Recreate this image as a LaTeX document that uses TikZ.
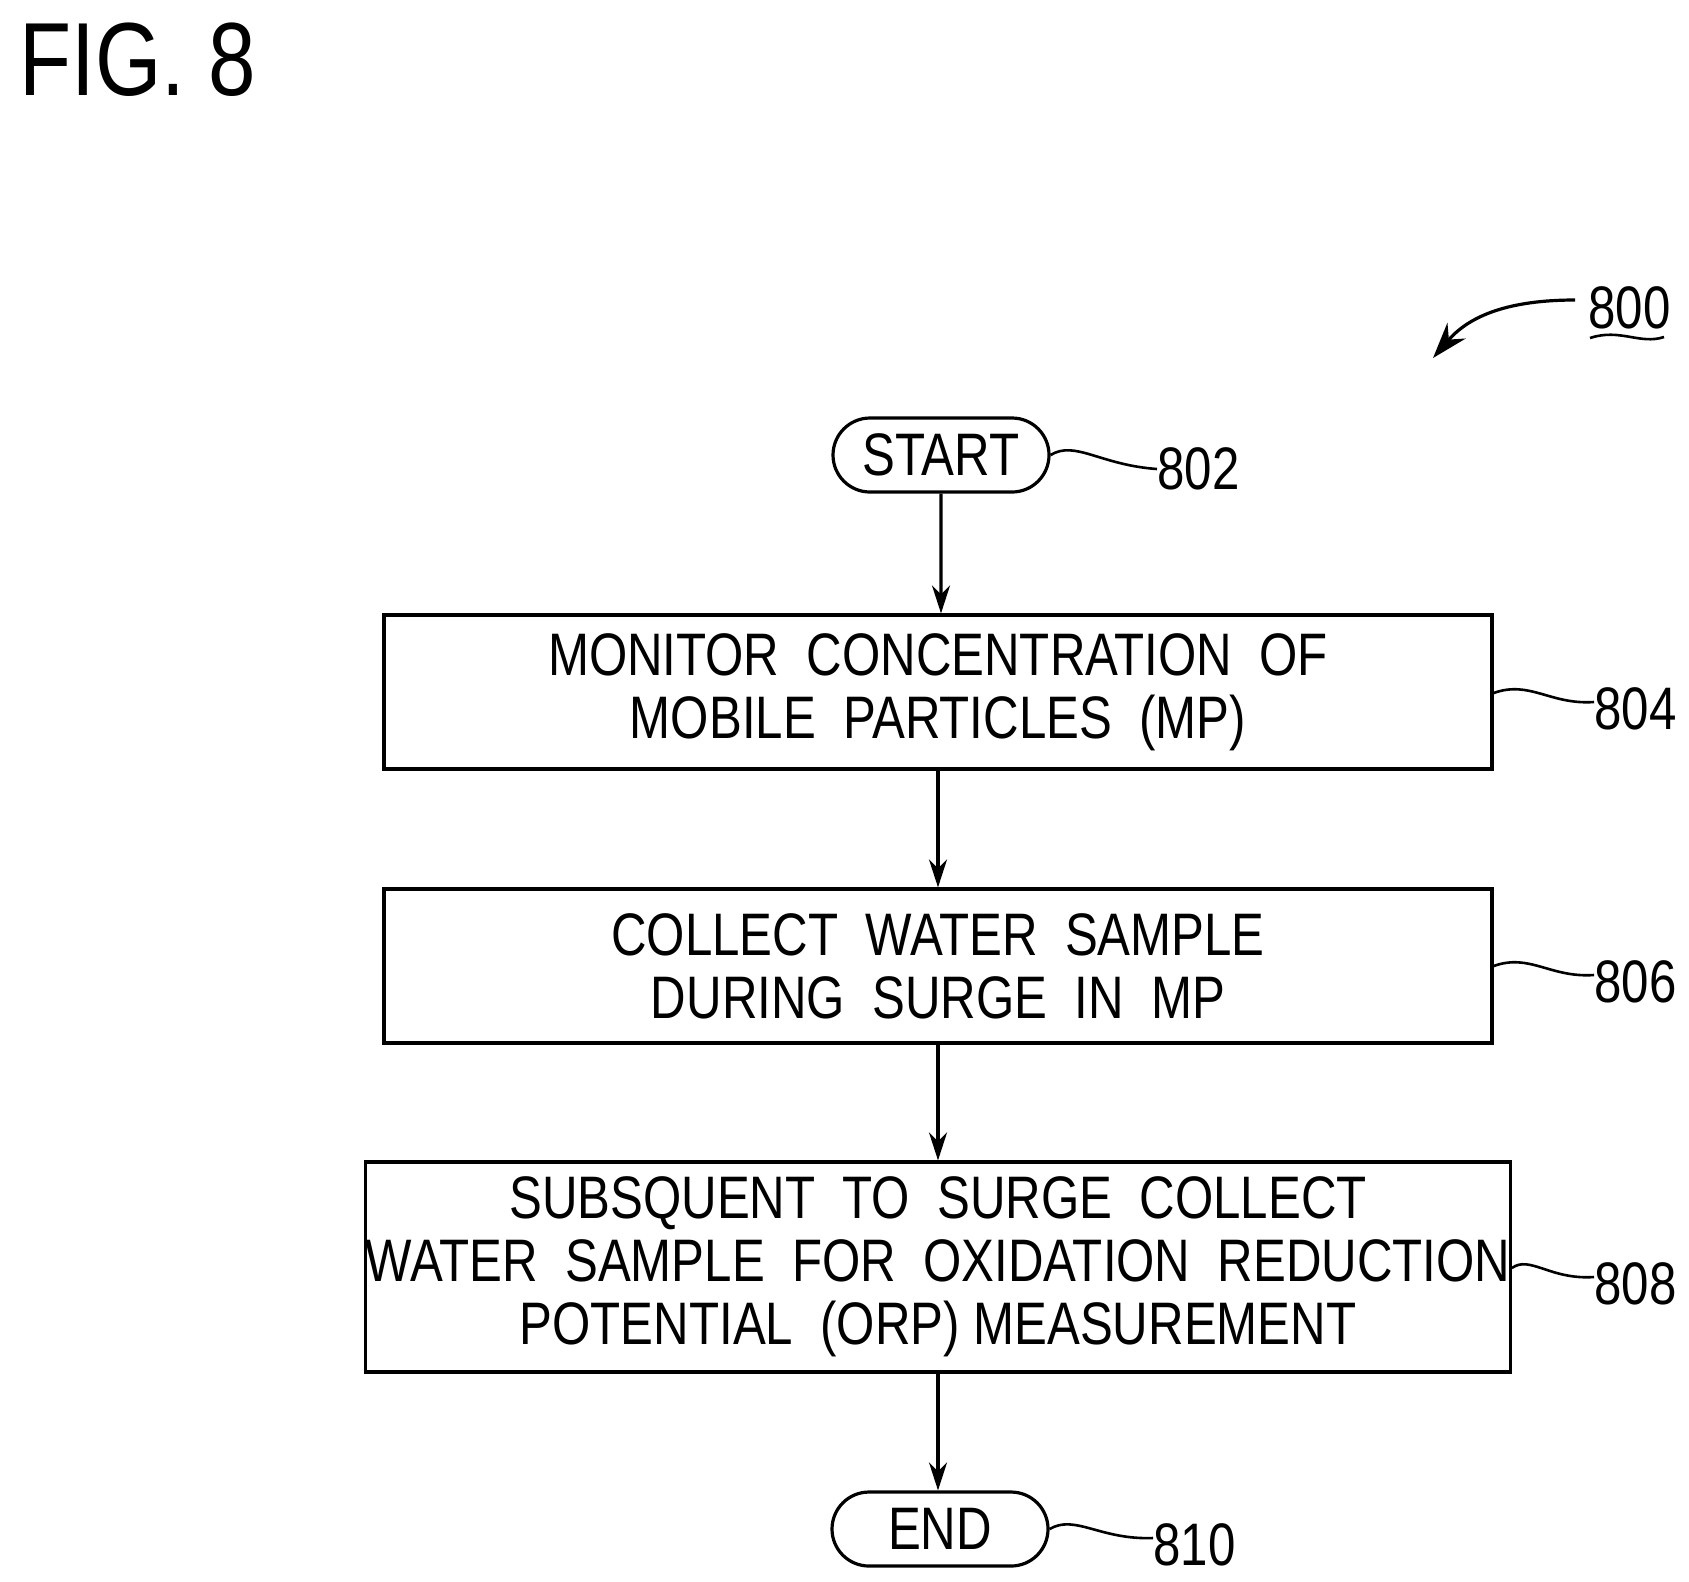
\documentclass[tikz,border=0pt]{standalone}
\usepackage{fontspec}
\setmainfont{Liberation Sans}[FakeStretch=0.82]
\usetikzlibrary{arrows.meta,shapes.misc}
\begin{document}
\begin{tikzpicture}[x=0.5pt,y=-0.5pt,
  box/.style={draw,line width=1.6pt,minimum width=554pt,minimum height=77pt,align=center,font=\fontsize{30}{31.5}\selectfont,inner sep=0pt},
  term/.style={draw,line width=1.6pt,rounded rectangle,minimum width=108pt,minimum height=37pt,font=\fontsize{30}{31.5}\selectfont,inner sep=0pt},
  lbl/.style={font=\fontsize{30}{31.5}\selectfont,anchor=west,inner sep=0pt},
  arr/.style={line width=1.6pt,-{Stealth[length=14pt,width=9pt]}},
  sq/.style={line width=1.3pt}]
\useasboundingbox (0,0) rectangle (1689,1581);
\node[anchor=north west,inner sep=0pt,font=\fontsize{52}{52}\selectfont] (fig) at (19,22) {FIG. 8};
\node[term] (start) at (941,455) {START};
\node[box] (b804) at (938,692) {MONITOR\ \ CONCENTRATION\ \ OF\\MOBILE\ \ PARTICLES\ \ (MP)};
\node[box] (b806) at (938,966) {COLLECT\ \ WATER\ \ SAMPLE\\DURING\ \ SURGE\ \ IN\ \ MP};
\node[box,minimum height=105pt] (b808) at (938,1267) {SUBSQUENT\ \ TO\ \ SURGE\ \ COLLECT\\WATER\ \ SAMPLE\ \ FOR\ \ OXIDATION\ \ REDUCTION\\POTENTIAL\ \ (ORP) MEASUREMENT};
\node[term] (end) at (940,1529) {END};
\draw[arr] (start) -- (start|-b804.north);
\draw[arr] (b804) -- (b806);
\draw[arr] (b806) -- (b808);
\draw[arr] (b808) -- (end.north-|b808);
\node[lbl] (l802) at (1157,469) {802};
\node[lbl] (l804) at (1594,709) {804};
\node[lbl] (l806) at (1594,982) {806};
\node[lbl] (l808) at (1594,1284) {808};
\node[lbl] (l810) at (1153,1545) {810};
\node[lbl] (l800) at (1588,308) {800};
\draw[sq] (start.east) .. controls (1075,440) and (1100,465) .. (l802.west);
\draw[sq] (b804.east|-0,693) .. controls (1530,680) and (1550,705) .. (l804.west|-0,702);
\draw[sq] (b806.east|-0,966) .. controls (1530,953) and (1550,978) .. (l806.west|-0,975);
\draw[sq] (b808.east|-0,1268) .. controls (1530,1255) and (1550,1280) .. (l808.west|-0,1277);
\draw[sq] (end.east) .. controls (1075,1514) and (1100,1540) .. (l810.west|-0,1538);
\draw[sq] (1590,338) .. controls (1620,328) and (1640,345) .. (1664,337);
\draw[line width=1.6pt,-{Stealth[length=18pt,width=12pt]}] (1575,300) .. controls (1510,300) and (1470,315) .. (1433,358);
\end{tikzpicture}
\end{document}
